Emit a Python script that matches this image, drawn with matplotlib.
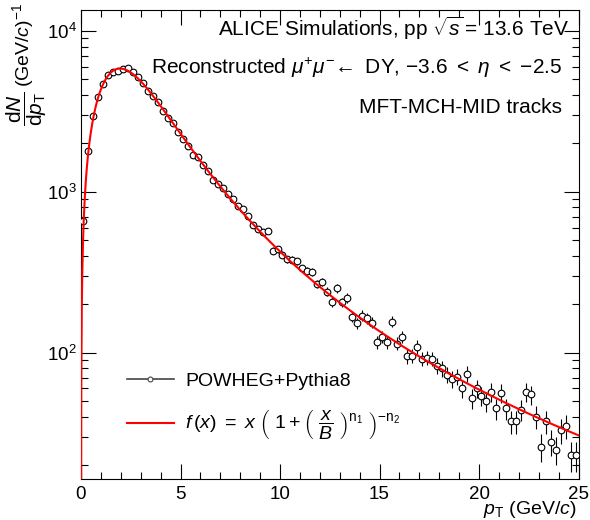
import numpy as np
import matplotlib
matplotlib.use("Agg")
import matplotlib.pyplot as plt
from matplotlib.lines import Line2D
from matplotlib.ticker import MultipleLocator, LogLocator, NullFormatter

plt.rcParams['font.family'] = ['Liberation Sans', 'DejaVu Sans']
plt.rcParams['mathtext.fontset'] = 'custom'
plt.rcParams['mathtext.rm'] = 'Liberation Sans'
plt.rcParams['mathtext.it'] = 'Liberation Sans:italic'
plt.rcParams['mathtext.bf'] = 'Liberation Sans:bold'
plt.rcParams['mathtext.sf'] = 'Liberation Sans'

# ---- data ----
bin_width = 0.25
pt_centers = np.arange(100) * bin_width + bin_width / 2
counts = np.array([
    654, 1800, 2970, 3870, 4660, 5290, 5560, 5660, 5780, 5900,
    5560, 5140, 4730, 4260, 3960, 3600, 3200, 2880, 2690, 2340,
    2140, 1930, 1700, 1640, 1470, 1340, 1190, 1120, 1055, 972,
    902, 811, 781, 703, 624, 590, 563, 567, 431, 440,
    406, 380, 378, 369, 335, 322, 316, 268, 276, 240,
    208, 252, 206, 219, 167, 153, 170, 164, 154, 117,
    126, 117, 156, 114, 126, 95, 96, 109, 92, 93,
    92, 83, 80, 73, 69, 71, 60, 74, 52, 60,
    54, 50, 57, 45, 56, 45, 37.4, 37.4, 44, 57,
    55, 40, 26, 37.4, 28, 25, 33, 35, 23, 23])
errors = np.sqrt(counts)  # statistical (Poisson-like) uncertainties

# fit parameters of f(x) = A x (1 + (x/B)^n1)^(-n2)
fit_A = 4848.1
fit_B = 3.1169
fit_n1 = 2.3567
fit_n2 = 1.6855

def fit_func(x):
    return fit_A * x * (1 + (x / fit_B) ** fit_n1) ** (-fit_n2)

fig = plt.figure(figsize=(5.9, 5.2), dpi=100)
W, H = 590, 520
ax = fig.add_axes([81 / W, 41 / H, (578.5 - 81) / W, (479 - 10) / H])
ax.set_xlim(0, 25)
ax.set_yscale('log')
ax.set_ylim(16.4, 13500)

ax.errorbar(pt_centers, counts, yerr=errors, fmt='o', mfc='white', mec='black',
            ms=4.8, mew=0.8, ecolor='black', elinewidth=0.8, capsize=0, zorder=3)
xf = np.linspace(1e-3, 25, 2000)
ax.plot(xf, fit_func(xf), color='#ff0000', lw=1.5, zorder=4)

ax.xaxis.set_major_locator(MultipleLocator(5))
ax.xaxis.set_minor_locator(MultipleLocator(1))
ax.yaxis.set_major_locator(LogLocator(base=10))
ax.yaxis.set_minor_locator(LogLocator(base=10, subs=np.arange(2, 10)))
ax.yaxis.set_minor_formatter(NullFormatter())
ax.tick_params(which='both', direction='in', top=True, right=True, width=0.8, labelsize=13.5)
ax.tick_params(which='major', length=10.8)
ax.tick_params(which='minor', length=5)
ax.tick_params(axis='x', pad=5)
ax.tick_params(axis='y', pad=3)
for s in ax.spines.values():
    s.set_linewidth(0.8)

# y-axis title (fraction + units), rotated
fig.text(27 / W, 1 - 109 / H,
         r'$\dfrac{\mathrm{d}\mathit{N}}{\mathrm{d}\mathit{p}_{\mathrm{T}}}$',
         rotation=90, ha='center', va='center', fontsize=15)
fig.text(23 / W, 1 - 3 / H, r'(GeV/$\mathit{c}$)$^{-1}$',
         rotation=90, ha='center', va='top', fontsize=14)
fig.text(577 / W, 1 - 510 / H, r'$\mathit{p}_{\mathrm{T}}$ (GeV/$\mathit{c}$)',
         ha='right', va='center', fontsize=14)

fig.text(569 / W, 1 - 36 / H, r'ALICE Simulations, pp $\sqrt{\mathit{s}}\,$= 13.6 TeV',
         ha='right', va='baseline', fontsize=15)
fig.text(562 / W, 1 - 74 / H,
         r'Reconstructed $\mu^{+}\mu^{-}\!\leftarrow$ DY, $-$3.6 $<$ $\eta$ $<$ $-$2.5',
         ha='right', va='baseline', fontsize=15)
fig.text(562 / W, 1 - 113 / H, 'MFT-MCH-MID tracks', ha='right', va='baseline', fontsize=15)

handles = [Line2D([], [], color='#444444', lw=1.2, marker='o', mfc='white', mec='#444444', ms=3.5, mew=0.8),
           Line2D([], [], color='#ff0000', lw=1.5)]
labels = ['POWHEG+Pythia8',
          r'$\mathit{f}\,(\mathit{x})\ =\ \mathit{x}\ \left(\ 1 + \left(\ \dfrac{\mathit{x}}{\mathit{B}}\ \right)^{\mathrm{n}_{1}}\ \right)^{-\mathrm{n}_{2}}$']
ax.legend(handles, labels, loc='upper left', bbox_to_anchor=(127 / W, 1 - 372 / H),
          bbox_transform=fig.transFigure, frameon=False, fontsize=14,
          handlelength=2.4, handletextpad=0.6, borderpad=0, borderaxespad=0, labelspacing=1.0)

fig.savefig('out.png', dpi=100)
